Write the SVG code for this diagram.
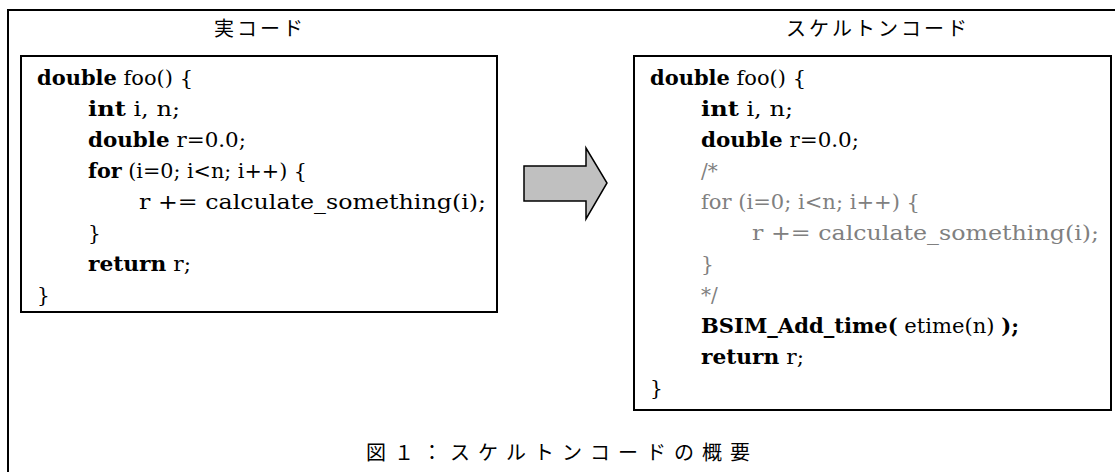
<svg xmlns="http://www.w3.org/2000/svg" width="1115" height="472" viewBox="0 0 1115 472">
<style>
.box{fill:#fff;stroke:#000;stroke-width:2}
.code{font-family:"DejaVu Serif","Liberation Serif",serif;font-size:20px;fill:#000}
.b{font-weight:bold}
.gray{fill:#808080}
.jp{font-family:"Noto Sans CJK JP",sans-serif;font-size:20px;fill:#000}
</style>
<rect width="1115" height="472" fill="#fff"/>
<g id="frame">
<rect x="8" y="10" width="1130" height="480" fill="none" stroke="#000" stroke-width="2"/>
<text class="jp" x="260" y="36" text-anchor="middle" letter-spacing="3">実コード</text>
<text class="jp" x="878" y="36" text-anchor="middle" letter-spacing="3">スケルトンコード</text>
<text class="jp" x="562" y="460" text-anchor="middle" letter-spacing="8">図１：スケルトンコードの概要</text>
</g>
<g id="real-code">
<rect class="box" x="21" y="56" width="476" height="256"/>
<text class="code" x="37" y="85" textLength="156" lengthAdjust="spacingAndGlyphs"><tspan class="b">double</tspan> foo() {</text>
<text class="code" x="88" y="116" textLength="92" lengthAdjust="spacingAndGlyphs"><tspan class="b">int</tspan> i, n;</text>
<text class="code" x="88" y="147" textLength="158" lengthAdjust="spacingAndGlyphs"><tspan class="b">double</tspan> r=0.0;</text>
<text class="code" x="88" y="178" textLength="219" lengthAdjust="spacingAndGlyphs"><tspan class="b">for</tspan> (i=0; i&lt;n; i++) {</text>
<text class="code" x="139" y="209" textLength="347" lengthAdjust="spacingAndGlyphs">r += calculate_something(i);</text>
<text class="code" x="88" y="240">}</text>
<text class="code" x="88" y="271" textLength="103" lengthAdjust="spacingAndGlyphs"><tspan class="b">return</tspan> r;</text>
<text class="code" x="37" y="302">}</text>
</g>
<g id="connectors">
<polygon points="524,166 586,166 586,148 607,183 586,219 586,201 524,201" fill="#c0c0c0" stroke="#000" stroke-width="1.5" stroke-linejoin="miter"/>
</g>
<g id="skeleton-code">
<rect class="box" x="634" y="56" width="477" height="354"/>
<text class="code" x="650" y="85" textLength="156" lengthAdjust="spacingAndGlyphs"><tspan class="b">double</tspan> foo() {</text>
<text class="code" x="701" y="116" textLength="92" lengthAdjust="spacingAndGlyphs"><tspan class="b">int</tspan> i, n;</text>
<text class="code" x="701" y="147" textLength="158" lengthAdjust="spacingAndGlyphs"><tspan class="b">double</tspan> r=0.0;</text>
<text class="code gray" x="701" y="178">/*</text>
<text class="code gray" x="701" y="209" textLength="219" lengthAdjust="spacingAndGlyphs">for (i=0; i&lt;n; i++) {</text>
<text class="code gray" x="752" y="240" textLength="347" lengthAdjust="spacingAndGlyphs">r += calculate_something(i);</text>
<text class="code gray" x="701" y="271">}</text>
<text class="code gray" x="701" y="302">*/</text>
<text class="code" x="701" y="333" textLength="318" lengthAdjust="spacingAndGlyphs"><tspan class="b">BSIM_Add_time(</tspan> etime(n) <tspan class="b">);</tspan></text>
<text class="code" x="701" y="364" textLength="103" lengthAdjust="spacingAndGlyphs"><tspan class="b">return</tspan> r;</text>
<text class="code" x="650" y="395">}</text>
</g>
</svg>
